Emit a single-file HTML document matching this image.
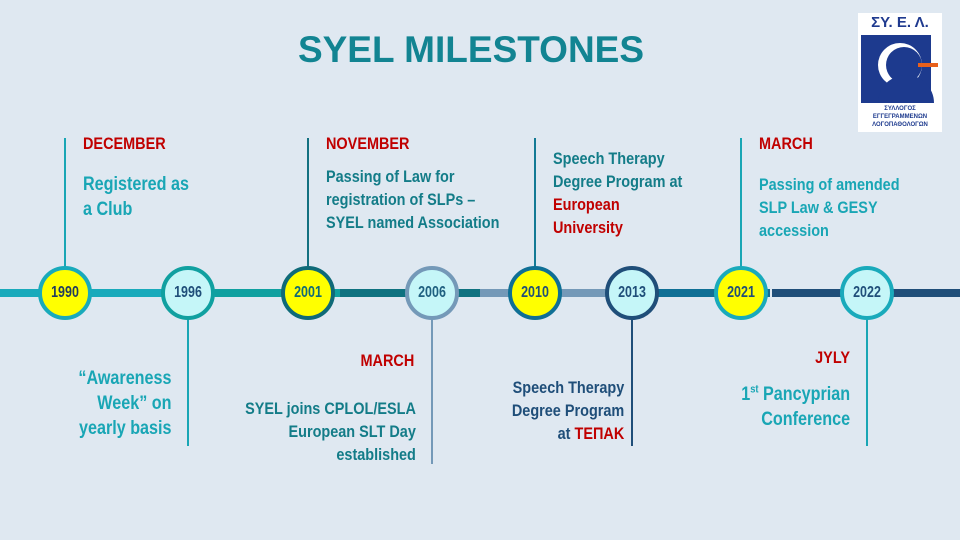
<!DOCTYPE html>
<html><head><meta charset="utf-8"><style>
body{margin:0;width:960px;height:540px;background:#dfe8f1;position:relative;overflow:hidden;font-family:"Liberation Sans",sans-serif;font-weight:bold}
.a{position:absolute}
.t{position:absolute;font-size:17px;line-height:23px;white-space:nowrap;transform:scaleX(0.85);transform-origin:left top}
.t.rt{transform-origin:right top;text-align:right}
.r{color:#c00000}
.c1{color:#19a6b5}.c2{color:#137c88}.c3{color:#1f4e79}
.seg{position:absolute;top:289px;height:8px}
.v{position:absolute;width:2px}
.n{position:absolute;width:46px;height:46px;border-radius:50%;border:4px solid;top:266px;text-align:center;font-weight:bold}
.n span{display:block;font-size:16px;line-height:46px;transform:scaleX(0.78)}
.y{background:#ffff00}.lc{background:#c5f6f8}
</style></head><body>
<div class="a" style="left:0;top:29px;width:942px;text-align:center;font-size:37px;color:#128492;font-weight:bold">SYEL MILESTONES</div>
<div class="a" style="left:858px;top:13px;width:84px;height:119px;background:#fff">
<div class="a" style="left:2px;top:1px;width:80px;text-align:center;color:#1f3a8f;font-size:15px">ΣΥ. Ε. Λ.</div>
<div class="a" style="left:3px;top:22px;width:70px;height:68px;background:#1d3a8e"></div>
<div class="a" style="left:20px;top:30px;width:44px;height:44px;border-radius:50%;background:#fff"></div>
<div class="a" style="left:28px;top:34px;width:36px;height:36px;border-radius:50%;background:#1d3a8e"></div>
<div class="a" style="left:20px;top:62px;width:56px;height:28px;border-radius:28px 28px 0 0;background:#1d3a8e"></div>
<div class="a" style="left:60px;top:50px;width:20px;height:4px;background:#e8601c"></div>
<div class="a" style="left:2px;top:92px;width:80px;text-align:center;color:#1d3a8e;font-size:6px;line-height:8px">ΣΥΛΛΟΓΟΣ<br>ΕΓΓΕΓΡΑΜΜΕΝΩΝ<br>ΛΟΓΟΠΑΘΟΛΟΓΩΝ</div>
</div>

<div class="seg" style="left:0;width:215px;background:#19aabb"></div>
<div class="seg" style="left:215px;width:125px;background:#10a0a0"></div>
<div class="seg" style="left:340px;width:140px;background:#0f7280"></div>
<div class="seg" style="left:480px;width:130px;background:#7499b8"></div>
<div class="seg" style="left:610px;width:160px;background:#0f6f95"></div>
<div class="seg" style="left:772px;width:188px;background:#1f4e79"></div>

<div class="v" style="left:64px;top:138px;height:130px;background:#19a6b5"></div>
<div class="v" style="left:307px;top:138px;height:130px;background:#137080"></div>
<div class="v" style="left:534px;top:138px;height:130px;background:#137a95"></div>
<div class="v" style="left:740px;top:138px;height:130px;background:#19a6b5"></div>
<div class="v" style="left:187px;top:318px;height:128px;background:#19a6b5"></div>
<div class="v" style="left:431px;top:318px;height:146px;background:#7499b8"></div>
<div class="v" style="left:631px;top:318px;height:128px;background:#1f4e79"></div>
<div class="v" style="left:866px;top:318px;height:128px;background:#19a6b5"></div>

<div class="n y" style="left:38px;border-color:#19aabb;color:#1f3a5f"><span>1990</span></div>
<div class="n lc" style="left:161px;border-color:#10a0a0;color:#1f4e79"><span>1996</span></div>
<div class="n y" style="left:281px;border-color:#0f6a78;color:#0f6a78"><span>2001</span></div>
<div class="n lc" style="left:405px;border-color:#7499b8;color:#1f6080"><span>2006</span></div>
<div class="n y" style="left:508px;border-color:#0f6f95;color:#1f4e79"><span>2010</span></div>
<div class="n lc" style="left:605px;border-color:#1f4e79;color:#1f4e79"><span>2013</span></div>
<div class="n y" style="left:714px;border-color:#19aabb;color:#1f4e79"><span>2021</span></div>
<div class="n lc" style="left:840px;border-color:#19aabb;color:#1f4e79"><span>2022</span></div>

<div class="t r" style="left:83px;top:132px">DECEMBER</div>
<div class="t c1" style="left:83px;top:172px;font-size:19px;line-height:25px">Registered as<br>a Club</div>
<div class="t r" style="left:326px;top:132px">NOVEMBER</div>
<div class="t c2" style="left:326px;top:165px">Passing of Law for<br>registration of SLPs –<br>SYEL named Association</div>
<div class="t c2" style="left:553px;top:147px">Speech Therapy<br>Degree Program at<br><span class="r">European<br>University</span></div>
<div class="t r" style="left:759px;top:132px">MARCH</div>
<div class="t c1" style="left:759px;top:173px">Passing of amended<br>SLP Law &amp; GESY<br>accession</div>

<div class="t c1 rt" style="right:789px;top:366px;font-size:19px;line-height:25px">“Awareness<br>Week” on<br>yearly basis</div>
<div class="t r rt" style="right:546px;top:349px">MARCH</div>
<div class="t c2 rt" style="right:544px;top:397px">SYEL joins CPLOL/ESLA<br>European SLT Day<br>established</div>
<div class="t c3 rt" style="right:336px;top:376px">Speech Therapy<br>Degree Program<br>at <span class="r">ΤΕΠΑΚ</span></div>
<div class="t r rt" style="right:110px;top:346px">JYLY</div>
<div class="t c1 rt" style="right:110px;top:382px;font-size:19px;line-height:25px">1<sup style="font-size:11px;line-height:0">st</sup> Pancyprian<br>Conference</div>
</body></html>
